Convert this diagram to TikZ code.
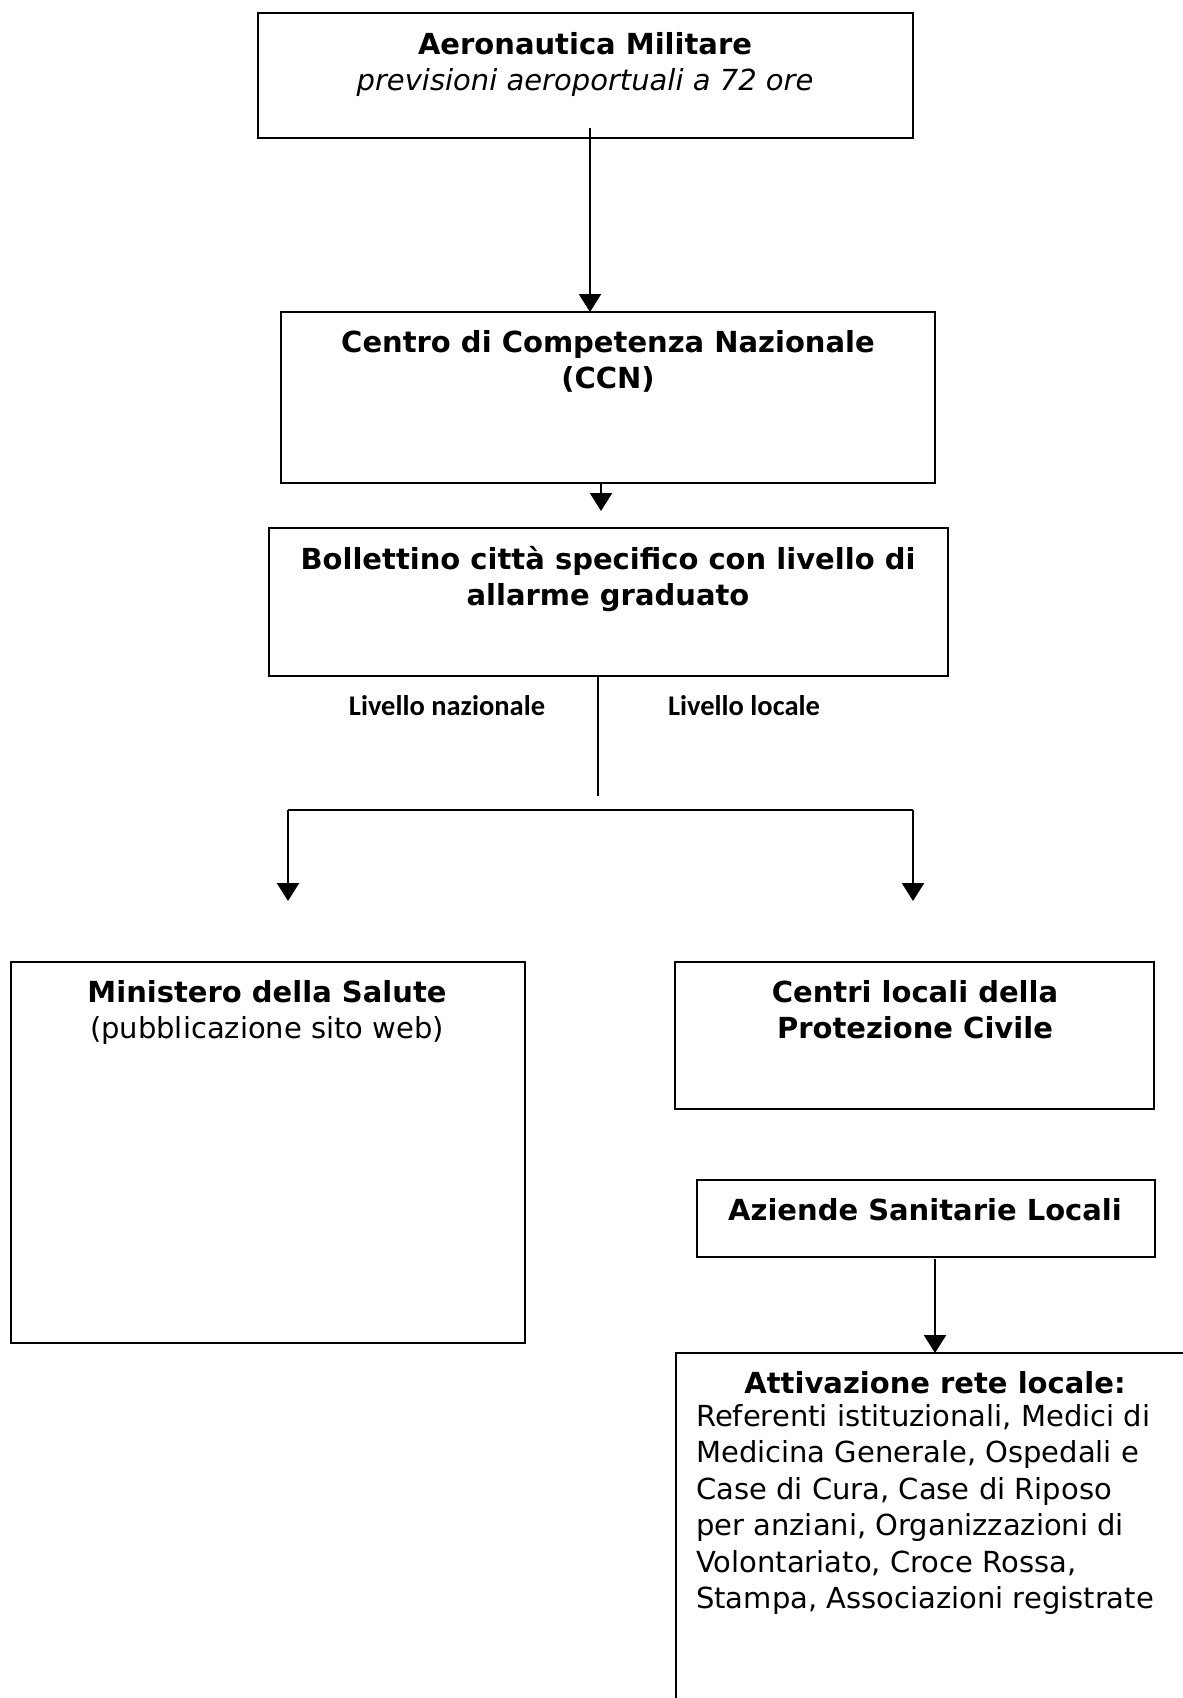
\documentclass[tikz,border=0pt]{standalone}
\usepackage{fontspec}
\setmainfont{DejaVu Sans}
\newfontfamily\lblfont{Carlito}
\usetikzlibrary{arrows.meta}
\begin{document}
\begin{tikzpicture}[x=1pt,y=-1pt,
  boxline/.style={draw=black,line width=2.8pt},
  txt/.style={align=center,inner sep=0pt,anchor=base,font=\fontsize{29}{36.5}\selectfont},
  lbl/.style={inner sep=0pt,anchor=base,font=\lblfont\bfseries\fontsize{28.5}{34}\selectfont},
  arr/.style={line width=2.4pt,-{Triangle[length=18pt,width=22pt]}},
  ln/.style={line width=2.4pt}]
\useasboundingbox (0,0) rectangle (1183,1698);
\clip (0,0) rectangle (1183,1698);
% boxes
\path[boxline] (258,13) rectangle (913,138);
\coordinate (b1) at (590,128);
\path[boxline] (281,312) rectangle (935,483);
\coordinate (b2top) at (590,312);
\coordinate (b2bot) at (601,483);
\path[boxline] (269,528) rectangle (948,676);
\coordinate (b3top) at (601,528);
\coordinate (b3bot) at (598,676);
\path[boxline] (11,962) rectangle (525,1343);
\path[boxline] (675,962) rectangle (1154,1109);
\path[boxline] (697,1180) rectangle (1155,1257);
\coordinate (asl) at (935,1259);
\path[boxline] (676,1353) rectangle (1200,1720);
\coordinate (att) at (935,1353);
% texts (anchor base = baseline of last line)
\node[txt] (t1) at (585,90.5) {\bfseries Aeronautica Militare\\\itshape previsioni aeroportuali a 72 ore};
\node[txt] (t2) at (608,388.5) {\bfseries Centro di Competenza Nazionale\\\bfseries (CCN)};
\node[txt] (t3) at (608,605.5) {\bfseries Bollettino città specifico con livello di\\\bfseries allarme graduato};
\node[txt] (t4) at (267,1038.5) {\bfseries Ministero della Salute\\(pubblicazione sito web)};
\node[txt] (t5) at (915,1038.5) {\bfseries Centri locali della\\\bfseries Protezione Civile};
\node[txt] (t6) at (925,1220) {\bfseries Aziende Sanitarie Locali};
\node[txt] (t7) at (935,1393) {\bfseries Attivazione rete locale:};
\node[txt,anchor=north west,align=left] (t8) at (696,1404) {Referenti istituzionali, Medici di\\Medicina Generale, Ospedali e\\Case di Cura, Case di Riposo\\per anziani, Organizzazioni di\\Volontariato, Croce Rossa,\\Stampa, Associazioni registrate};
\node[lbl] (l1) at (447,715) {Livello nazionale};
\node[lbl] (l2) at (744,715) {Livello locale};
% connectors
\draw[arr] (b1) -- (b2top);
\draw[arr] (b2bot) -- (601,511);
\draw[ln] (b3bot) -- (598,796);
\coordinate (hl) at (288,810);
\coordinate (hr) at (913,810);
\draw[ln] (hl) -- (hr);
\draw[arr] (hl) -- (288,901);
\draw[arr] (hr) -- (913,901);
\draw[arr] (asl) -- (att);
\end{tikzpicture}
\end{document}
